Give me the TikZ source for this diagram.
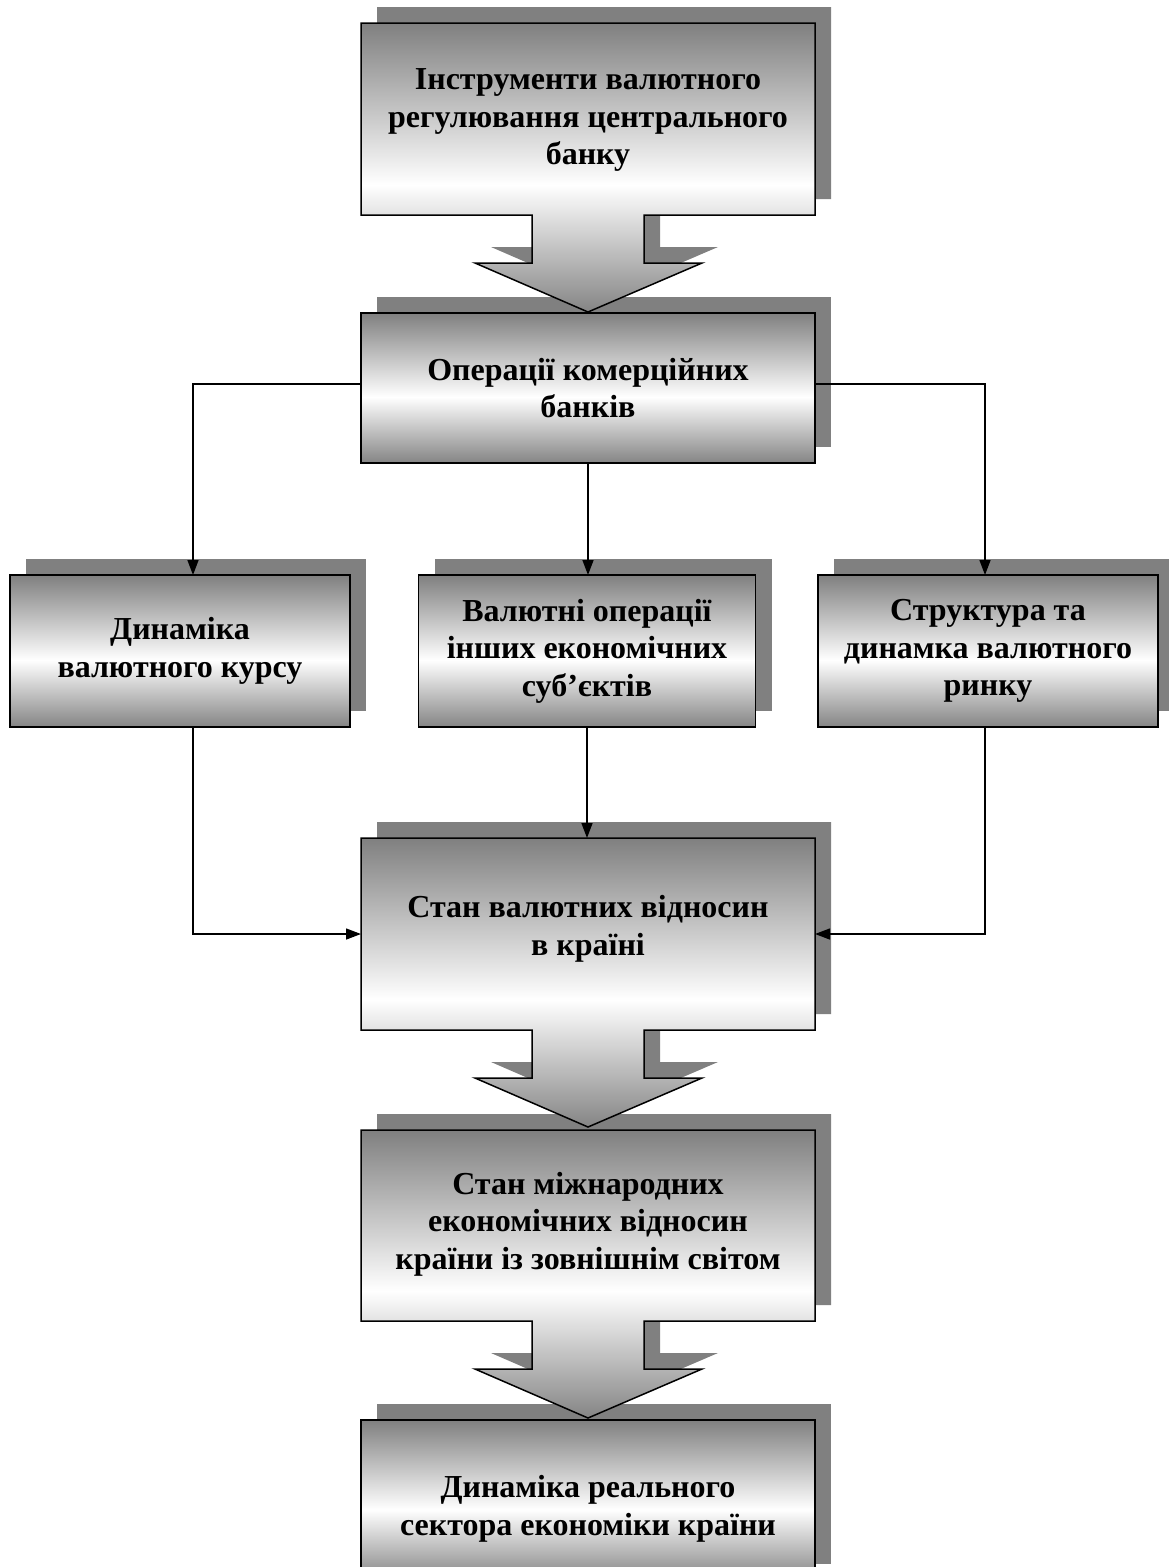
\documentclass[tikz,border=0pt]{standalone}
\usepackage{fontspec}
\setmainfont{Liberation Serif}
\usetikzlibrary{arrows.meta,shadows}
\pgfdeclareverticalshading{wgw}{100bp}{color(0bp)=(black!48); color(25bp)=(black!48); color(47bp)=(white); color(75bp)=(black!50); color(100bp)=(black!50)}
\tikzset{
  cpath/.style 2 args={insert path={(361,#1) -- (815,#1) -- (815,#2) -- (644,#2) -- (644,{#2+48}) -- (702,{#2+48}) -- (588,{#2+97}) -- (475,{#2+48}) -- (532,{#2+48}) -- (532,#2) -- (361,#2) -- cycle}},
  shadowfill/.style={fill=black!50, draw=none},
  shapefill/.style={shading=wgw, shading angle=0, draw=black, line width=1.5pt, line join=miter},
  boxtext/.style={font=\bfseries\fontsize{32}{37.5}\selectfont, align=center, inner sep=0pt, outer sep=0pt},
  plainbox/.style={boxtext, rectangle, shapefill, general shadow={shadowfill, shadow xshift=16pt, shadow yshift=16pt}},
  anchorbox/.style={rectangle, draw=none, inner sep=0pt, outer sep=0pt, minimum width=454pt},
  textbox/.style={boxtext, draw=none},
  conn/.style={line width=1.4pt, -{Triangle[length=15pt,width=11pt]}}
}
\begin{document}
\begin{tikzpicture}[x=1pt,y=-1pt]
\useasboundingbox (0,0) rectangle (1168,1567);
% shadows of callout shapes
\path[shadowfill, shift={(16,-16)}, cpath={23}{215}];
\path[shadowfill, shift={(16,-16)}, cpath={838}{1030}];
\path[shadowfill, shift={(16,-16)}, cpath={1130}{1321}];
% plain boxes
\node[plainbox, minimum width=454pt, minimum height=150pt] (ops) at (588,388) {Операції комерційних\\банків};
\node[plainbox, minimum width=340pt, minimum height=152pt] (dyn) at (180,651) {Динаміка\\валютного курсу};
\node[plainbox, minimum width=337pt, minimum height=152pt] (val) at (587,651) {Валютні операції\\інших економічних\\суб’єктів};
\node[plainbox, minimum width=340pt, minimum height=152pt] (str) at (988,651) {Структура та\\динамка валютного\\ринку};
\node[plainbox, minimum width=454pt, minimum height=160pt] (real) at (588,1500) {};
\node[textbox] (realtxt) at (588,1509) {Динаміка реального\\сектора економіки країни};
% callout shapes
\path[shapefill, cpath={23}{215}];
\path[shapefill, cpath={838}{1030}];
\path[shapefill, cpath={1130}{1321}];
% callout boxes (anchors) and texts
\node[anchorbox, minimum height=192pt] (instr) at (588,119) {};
\node[anchorbox, minimum height=192pt] (st) at (588,934) {};
\node[anchorbox, minimum height=191pt] (intl) at (588,1225.5) {};
\node[textbox] (instrtxt) at (588,120) {Інструменти валютного\\регулювання центрального\\банку};
\node[textbox] (sttxt) at (588,929) {Стан валютних відносин\\в країні};
\node[textbox] (intltxt) at (588,1224) {Стан міжнародних\\економічних відносин\\країни із зовнішнім світом};
% connectors
\draw[conn] ([yshift=4pt]ops.west) -| ([xshift=13pt]dyn.north);
\draw[conn] (ops.south) -- (ops.south |- val.north);
\draw[conn] ([yshift=4pt]ops.east) -| ([xshift=-3pt]str.north);
\draw[conn] ([xshift=13pt]dyn.south) |- (st.west);
\draw[conn] (val.south) -- (val.south |- st.north);
\draw[conn] ([xshift=-3pt]str.south) |- (st.east);
\end{tikzpicture}
\end{document}
